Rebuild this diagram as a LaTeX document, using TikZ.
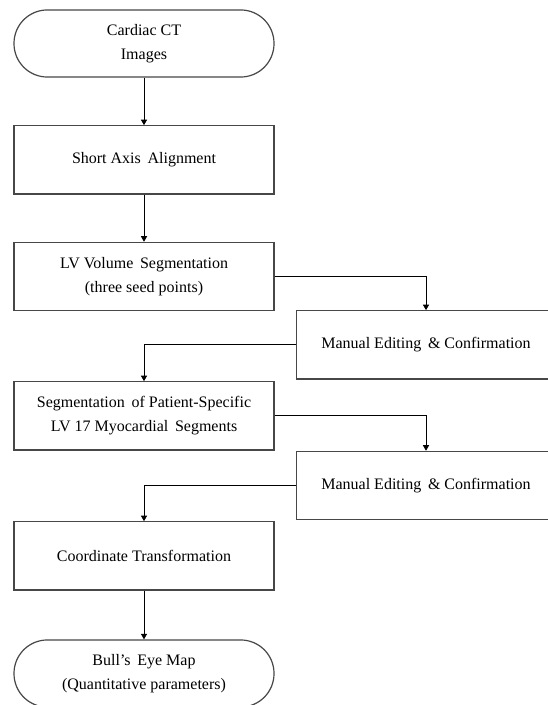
\documentclass[tikz,border=0pt]{standalone}
\usepackage{fontspec}
\setmainfont{Liberation Serif}
\usetikzlibrary{arrows.meta}
\begin{document}
\begin{tikzpicture}[x=0.75pt,y=-0.75pt,
  every node/.style={font=\fontsize{12pt}{18pt}\selectfont, align=center, inner sep=0pt},
  stepbox/.style={draw=black!72, line width=0.9pt, rectangle, minimum width=195pt, minimum height=51.2pt},
  sidebox/.style={draw=black!72, line width=0.9pt, rectangle, minimum width=194.2pt, minimum height=51.2pt},
  term/.style={draw=black!72, line width=0.9pt, rectangle, rounded corners=25pt, minimum width=195pt, minimum height=50.3pt},
  arr/.style={draw=black, line width=0.7pt, -{Triangle[length=4.2pt,width=4.6pt]}}]
\useasboundingbox (0,0) rectangle (547,705);
\fill[white] (0,0) rectangle (547,705);
\node[term] (ct) at (144,43.5) {Cardiac CT\\Images};
\node[stepbox] (sa) at (144,159.9) {Short Axis\, Alignment};
\node[stepbox] (lv) at (144,276.5) {LV Volume\, Segmentation\\(three seed points)};
\node[sidebox] (m1) at (426,344.9) {Manual Editing\, \& Confirmation};
\node[stepbox] (sg) at (144,415.9) {Segmentation\, of Patient-Specific\\LV 17 Myocardial\, Segments};
\node[sidebox] (m2) at (426,485.5) {Manual Editing\, \& Confirmation};
\node[stepbox] (co) at (144,555.9) {Coordinate Transformation};
\node[term] (be) at (144,673.5) {Bull’s\, Eye Map\\(Quantitative parameters)};
\draw[arr] (ct) -- (sa);
\draw[arr] (sa) -- (lv);
\draw[arr] (lv.east) -| (m1.north);
\draw[arr] (m1.west) -| (sg.north);
\draw[arr] (sg.east) -| (m2.north);
\draw[arr] (m2.west) -| (co.north);
\draw[arr] (co) -- (be);
\end{tikzpicture}
\end{document}
